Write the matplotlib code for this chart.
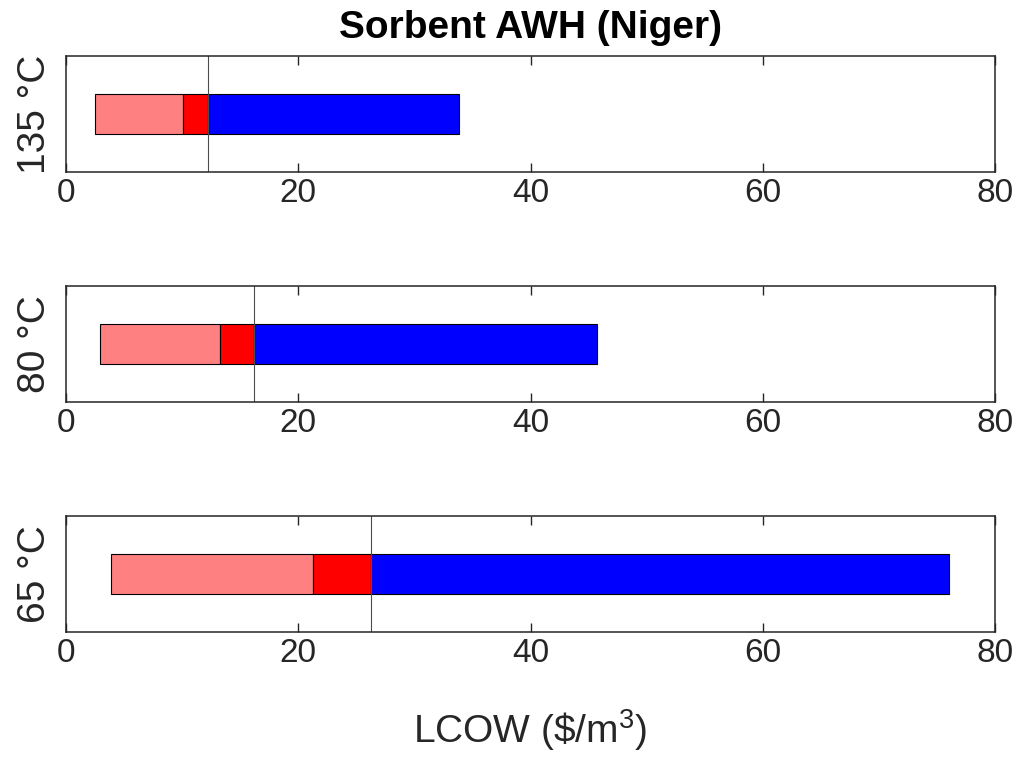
import matplotlib
matplotlib.use('Agg')
import matplotlib.pyplot as plt

plt.rcParams['font.family'] = ['Liberation Sans', 'DejaVu Sans']
plt.rcParams['mathtext.fontset'] = 'custom'
plt.rcParams['mathtext.rm'] = 'Liberation Sans'

# 온도별 LCOW 범위 ($/m3)
temps = ['135 °C', '80 °C', '65 °C']
lcow_min = [2.5, 2.9, 3.9]       # 분홍 시작
lcow_mid = [10.05, 13.26, 21.3]  # 빨강 시작
lcow_base = [12.2, 16.18, 26.27]  # 기준선
lcow_max = [33.8, 45.7, 76.0]    # 파랑 끝
xticks = [0, 20, 40, 60, 80]

PINK = (1.0, 0.5, 0.5)
RED = (1.0, 0.0, 0.0)
BLUE = (0.0, 0.0, 1.0)
TXT = (0.15, 0.15, 0.15)

fig = plt.figure(figsize=(10.2, 7.59), dpi=100)
left, width, height = 0.0647, 0.9108, 0.1525
bottoms = [0.7734, 0.4704, 0.1673]

axes = []
for i, temp in enumerate(temps):
    ax = fig.add_axes([left, bottoms[i], width, height])
    axes.append(ax)
    lo, md, bs, hi = lcow_min[i], lcow_mid[i], lcow_base[i], lcow_max[i]
    kw = dict(height=0.34, edgecolor='black', linewidth=0.8)
    ax.barh(0.5, md - lo, left=lo, color=PINK, **kw)
    ax.barh(0.5, bs - md, left=md, color=RED, **kw)
    ax.barh(0.5, hi - bs, left=bs, color=BLUE, **kw)
    ax.axvline(bs, color=(0.3, 0.3, 0.3), linewidth=0.8)
    ax.set_xlim(0, 80)
    ax.set_ylim(0, 1)
    ax.set_xticks(xticks)
    ax.set_yticks([])
    ax.tick_params(axis='x', direction='in', top=True, length=6.5, width=1.0,
                   labelsize=24, pad=4, colors=TXT)
    for s in ax.spines.values():
        s.set_linewidth(1.1)
        s.set_color(TXT)
    ax.set_ylabel(temp, fontsize=28, color=TXT, labelpad=9)

axes[0].set_title('Sorbent AWH (Niger)', fontsize=28, fontweight='bold', pad=13)
axes[-1].set_xlabel(r'LCOW (\$/m$^3$)', fontsize=28, color=TXT, labelpad=28)

fig.savefig('out.png', dpi=100)
